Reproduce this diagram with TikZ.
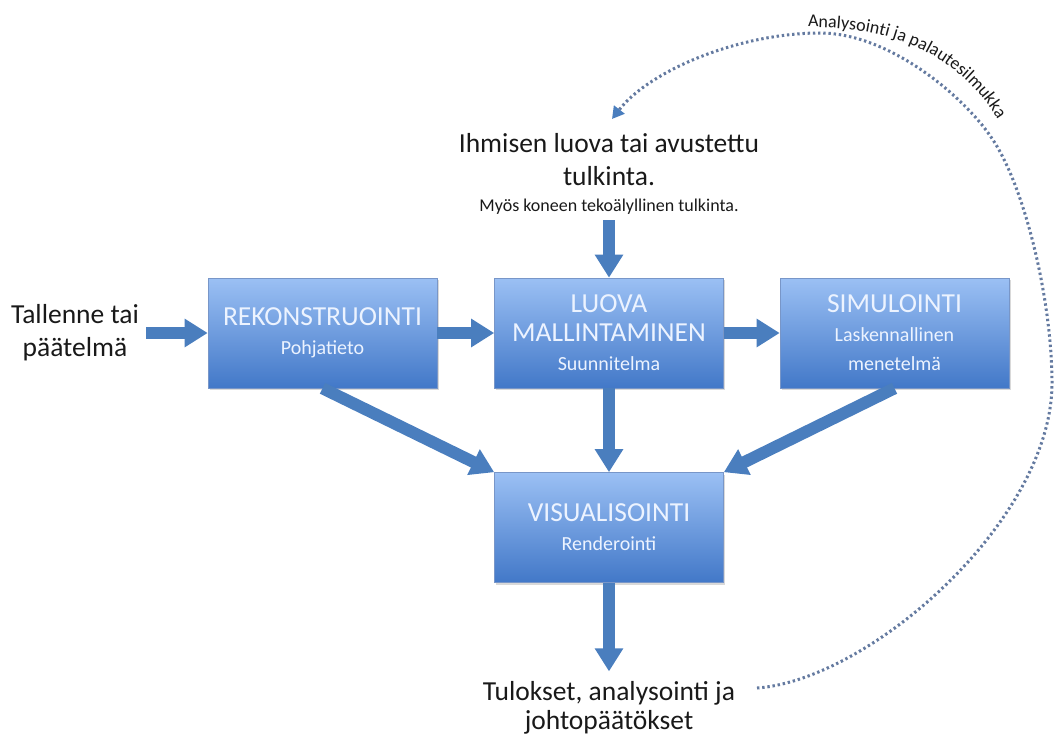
\documentclass[tikz,border=0pt]{standalone}
\usepackage{fontspec}
\setmainfont{Carlito}
\usetikzlibrary{arrows.meta,shadows,decorations.text}

\definecolor{flowblue}{RGB}{74,126,190}
\definecolor{boxtop}{RGB}{155,192,244}
\definecolor{boxbot}{RGB}{66,120,200}
\definecolor{boxedge}{RGB}{120,150,200}
\definecolor{boxtext}{RGB}{236,243,255}
\definecolor{loopdot}{RGB}{100,122,160}
\definecolor{ink}{RGB}{25,25,25}

\newcommand{\stagesub}{\fontsize{20}{25}\selectfont}

\begin{document}
\begin{tikzpicture}[x=1pt,y=-1pt,
  stage/.style={rectangle, minimum width=229pt, minimum height=110pt,
    inner sep=0pt, top color=boxtop, bottom color=boxbot,
    draw=boxedge, line width=0.6pt,
    drop shadow={opacity=0.3, shadow xshift=1.5pt, shadow yshift=-2pt},
    text=boxtext, align=center, font=\fontsize{27.5}{29}\selectfont},
  bigtext/.style={text=ink, align=center, inner sep=0pt,
    font=\fontsize{27.5}{33}\selectfont},
  smalltext/.style={text=ink, align=center, inner sep=0pt,
    font=\fontsize{18}{22}\selectfont},
  flow/.style={draw=flowblue, line width=12pt,
    -{Triangle[width=27pt,length=23pt]}},
  loopline/.style={draw=loopdot, line width=3pt,
    dash pattern=on 2.4pt off 2.8pt,
    -{Triangle[width=13pt,length=12pt,color=flowblue]}}
]
\useasboundingbox (0,0) rectangle (1056,733);

% process stages
\node[stage] (rek)   at (322.5,333) {REKONSTRUOINTI\\{\stagesub Pohjatieto}};
\node[stage] (luova) at (609,333)   {LUOVA\\MALLINTAMINEN\\{\stagesub Suunnitelma}};
\node[stage] (sim)   at (894.5,333) {SIMULOINTI\\{\stagesub Laskennallinen}\\{\stagesub menetelmä}};
\node[stage] (vis)   at (609,527.5) {VISUALISOINTI\\{\stagesub Renderointi}};

% free texts
\node[bigtext] (input)  at (75,333)  {Tallenne tai\\päätelmä};
\node[bigtext] (interp) at (609,160) {Ihmisen luova tai avustettu\\tulkinta.};
\node[smalltext, anchor=base] (ai) at (609,211) {Myös koneen tekoälyllinen tulkinta.};
\node[bigtext, font=\fontsize{27.5}{29}\selectfont] (result) at (609,708)
  {Tulokset, analysointi ja\\johtopäätökset};

% main flow
\draw[flow] (input.east) ++(7,0) coordinate (inA) -- (rek.west);
\draw[flow] (rek.east) -- (luova.west);
\draw[flow] (luova.east) -- (sim.west);
\draw[flow] (ai.south) ++(0,6) coordinate (aiA) -- (luova.north);
\draw[flow] (rek.south) -- (vis.north west);
\draw[flow] (luova.south) -- (vis.north);
\draw[flow] (sim.south) -- (vis.north east);
\draw[flow] (vis.south) -- ([yshift=10pt]result.north);

% feedback loop
\coordinate (loopstart) at (757,688);
\coordinate (loopend)   at (612,119);
\draw[loopline] (loopstart) .. controls (870,680) and (1052,520) .. (1052,383)
  .. controls (1052,303) and (1026,190) .. (993,140)
  .. controls (966,98) and (890,33) .. (820,33)
  .. controls (740,33) and (650,70) .. (loopend);
\path[decorate, decoration={text along path, text align=left,
    text={|\fontsize{18}{21}\selectfont\color{ink}|Analysointi ja palautesilmukka}}]
  (808,27) .. controls (880,27) and (925,45) .. (960,75)
  .. controls (980,92) and (995,112) .. (1010,140)
  .. controls (1018,152) and (1024,165) .. (1030,180);
\end{tikzpicture}
\end{document}
